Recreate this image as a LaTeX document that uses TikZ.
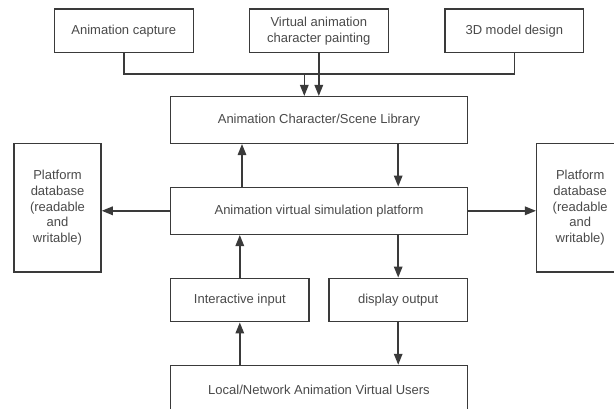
\documentclass[tikz,border=0pt]{standalone}
\usepackage{fontspec}
\setmainfont{Liberation Sans}
\usepackage{xcolor}
\usetikzlibrary{arrows.meta}
\definecolor{linegray}{HTML}{3A3A3A}
\definecolor{textgray}{HTML}{4A4A4A}
\tikzset{
  blk/.style={draw=linegray,line width=1.5pt,align=center,inner sep=0pt,
    text=textgray,font=\fontsize{13}{15.7}\selectfont},
  arr/.style={draw=linegray,line width=1.5pt,-{Triangle[length=11pt,width=8.5pt]}},
  ln/.style={draw=linegray,line width=1.5pt}
}
\begin{document}
\begin{tikzpicture}[x=1pt,y=-1pt]
\useasboundingbox (0,0) rectangle (614,409);
\fill[white] (0,0) rectangle (614,409);
\clip (0,0) rectangle (614,409);
\node[blk,minimum width=139pt,minimum height=43.7pt] (capture) at (123.8,30.9) {Animation capture};
\node[blk,minimum width=139pt,minimum height=43.7pt] (painting) at (318.8,30.9) {Virtual animation\\character painting};
\node[blk,minimum width=138.7pt,minimum height=43.7pt] (design) at (514.3,30.9) {3D model design};
\node[blk,minimum width=296.6pt,minimum height=46.6pt] (library) at (319,120) {Animation Character/Scene Library};
\node[blk,minimum width=296.6pt,minimum height=47pt] (platform) at (319,210.8) {Animation virtual simulation platform};
\node[blk,minimum width=87pt,minimum height=128.7pt] (dbleft) at (57.5,207.7) {Platform\\database\\(readable\\and\\writable)};
\node[blk,minimum width=87pt,minimum height=128.7pt] (dbright) at (580.2,207.7) {Platform\\database\\(readable\\and\\writable)};
\node[blk,minimum width=138.3pt,minimum height=43.4pt] (input) at (239.8,300) {Interactive input};
\node[blk,minimum width=138.3pt,minimum height=43.4pt] (output) at (398.2,300) {display output};
\node[blk,minimum width=296.6pt,minimum height=49pt] (users) at (319,390) {Local/Network Animation Virtual Users};
\coordinate (join) at (304.3,74);
\draw[ln] (capture.south) |- (join);
\draw[ln] (design.south) |- (join);
\draw[arr] (join) -- (join |- library.north);
\draw[arr] (painting.south) -- (painting.south |- library.north);
\draw[arr] ([xshift=-77pt]platform.north) -- ([xshift=-77pt]library.south);
\draw[arr] (output.north |- library.south) -- (output.north |- platform.north);
\draw[arr] (platform.west) -- (platform.west -| dbleft.east);
\draw[arr] (platform.east) -- (platform.east -| dbright.west);
\draw[arr] (input.north) -- (input.north |- platform.south);
\draw[arr] (output.north |- platform.south) -- (output.north);
\draw[arr] (input.south |- users.north) -- (input.south);
\draw[arr] (output.south) -- (output.south |- users.north);
\end{tikzpicture}
\end{document}
